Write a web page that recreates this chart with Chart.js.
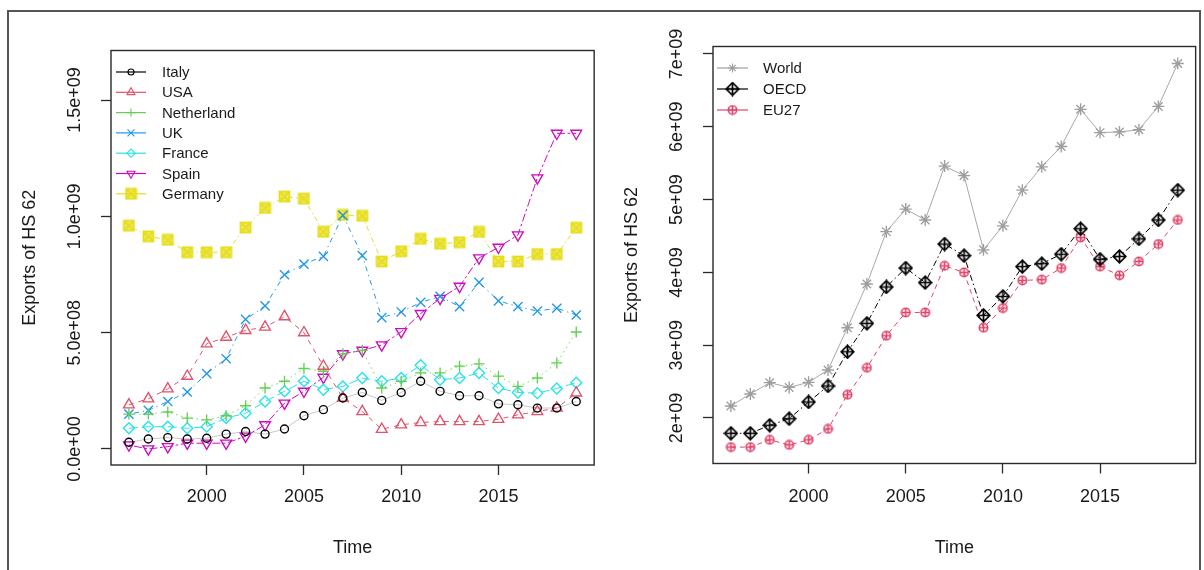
<!DOCTYPE html>
<html><head><meta charset="utf-8">
<script src="https://cdn.jsdelivr.net/npm/chart.js@4.4.0/dist/chart.umd.min.js"></script>
<style>
html,body{margin:0;padding:0;background:#fff;}
#wrap{position:relative;width:1204px;height:570px;overflow:hidden;background:#fff;}
#frame{position:absolute;left:7px;top:10px;width:1194px;height:620px;border:2px solid #555;box-sizing:border-box;}
.cv{position:absolute;top:0;}
</style></head><body>
<div id="wrap">
<div id="frame"></div>
<canvas id="c1" class="cv" width="602" height="570" style="left:0px"></canvas>
<canvas id="c2" class="cv" width="602" height="570" style="left:602px"></canvas>
</div>
<script>
// ---------- data (values in units of 1e9) ----------
const years = [1996,1997,1998,1999,2000,2001,2002,2003,2004,2005,2006,2007,2008,2009,2010,2011,2012,2013,2014,2015,2016,2017,2018,2019];

const italy      = [0.029,0.043,0.049,0.043,0.046,0.064,0.075,0.064,0.086,0.143,0.169,0.219,0.243,0.209,0.243,0.291,0.248,0.229,0.229,0.194,0.190,0.176,0.176,0.204];
const usa        = [0.190,0.216,0.259,0.313,0.452,0.481,0.510,0.524,0.569,0.500,0.356,0.219,0.161,0.085,0.104,0.114,0.118,0.118,0.118,0.128,0.147,0.161,0.176,0.241];
const netherland = [0.150,0.150,0.159,0.133,0.125,0.143,0.186,0.262,0.291,0.346,0.334,0.409,0.424,0.262,0.291,0.327,0.327,0.356,0.366,0.313,0.269,0.305,0.370,0.503];
const uk         = [0.150,0.166,0.204,0.245,0.324,0.388,0.557,0.615,0.749,0.795,0.828,1.004,0.831,0.565,0.589,0.630,0.656,0.612,0.716,0.637,0.612,0.593,0.605,0.576];
const france     = [0.089,0.096,0.096,0.089,0.096,0.133,0.154,0.204,0.248,0.291,0.255,0.269,0.305,0.291,0.305,0.360,0.298,0.305,0.327,0.262,0.243,0.240,0.260,0.285];
const spain      = [0.017,0.000,0.010,0.025,0.025,0.025,0.055,0.104,0.197,0.248,0.308,0.409,0.424,0.447,0.504,0.582,0.647,0.699,0.821,0.867,0.920,1.165,1.357,1.357];
const germany    = [0.960,0.914,0.899,0.846,0.846,0.846,0.952,1.036,1.085,1.076,0.934,1.006,1.002,0.806,0.850,0.903,0.882,0.889,0.933,0.806,0.806,0.838,0.838,0.951];

const world = [2.165,2.33,2.485,2.42,2.49,2.66,3.24,3.84,4.56,4.87,4.72,5.46,5.33,4.31,4.64,5.13,5.45,5.73,6.24,5.92,5.93,5.96,6.28,6.87];
const oecd  = [1.79,1.79,1.90,1.99,2.22,2.44,2.91,3.30,3.80,4.06,3.86,4.39,4.23,3.41,3.67,4.08,4.12,4.25,4.60,4.18,4.22,4.46,4.72,5.13];
const eu27  = [1.60,1.60,1.70,1.63,1.70,1.85,2.32,2.69,3.13,3.45,3.45,4.09,4.00,3.24,3.51,3.89,3.90,4.06,4.48,4.08,3.96,4.15,4.39,4.72];

const leftNames  = ["Italy","USA","Netherland","UK","France","Spain","Germany"];
const rightNames = ["World","OECD","EU27"];

const xTickValues = [2000,2005,2010,2015];
const xTickLabels = ["2000","2005","2010","2015"];
const yLeftTickValues = [0,0.5,1.0,1.5];
const yLeftTickLabels = ["0.0e+00","5.0e+08","1.0e+09","1.5e+09"];
const yRightTickValues = [2,3,4,5,6,7];
const yRightTickLabels = ["2e+09","3e+09","4e+09","5e+09","6e+09","7e+09"];

const xTitle = "Time";
const yTitle = "Exports of HS 62";

// ---------- styles ----------
const FONT = "'Liberation Sans', Arial, Helvetica, sans-serif";
Chart.defaults.font.family = FONT;
Chart.defaults.color = '#1a1a1a';

function mk(size, draw){ const c=document.createElement('canvas'); c.width=size; c.height=size; const g=c.getContext('2d'); draw(g,size); return c; }
const boxX = (col)=>mk(13,(g)=>{ g.fillStyle=col; g.globalAlpha=0.7; g.fillRect(1.5,1.5,10,10); g.globalAlpha=1; g.strokeStyle=col; g.lineWidth=1.8; g.strokeRect(1.5,1.5,10,10); g.beginPath(); g.moveTo(1.5,1.5); g.lineTo(11.5,11.5); g.moveTo(11.5,1.5); g.lineTo(1.5,11.5); g.stroke(); });
const diamondPlus = (col)=>mk(15,(g)=>{ g.strokeStyle=col; g.lineWidth=1.7; g.beginPath(); g.moveTo(7.5,1.2); g.lineTo(13.8,7.5); g.lineTo(7.5,13.8); g.lineTo(1.2,7.5); g.closePath(); g.moveTo(7.5,1.2); g.lineTo(7.5,13.8); g.moveTo(1.2,7.5); g.lineTo(13.8,7.5); g.stroke(); });
const circlePlus = (col)=>mk(11,(g)=>{ g.strokeStyle=col; g.lineWidth=1.6; g.beginPath(); g.arc(5.5,5.5,4.2,0,Math.PI*2); g.moveTo(5.5,1.2); g.lineTo(5.5,9.8); g.moveTo(1.2,5.5); g.lineTo(9.8,5.5); g.stroke(); });

const leftStyles = [
  {color:'#000000', line:'rgba(0,0,0,0.22)', pointStyle:'circle',   radius:4,   rot:0,   dash:[]},
  {color:'#DF536B', line:'#DF536B', pointStyle:'triangle', radius:6.2, rot:0,   dash:[5,5]},
  {color:'#61D04F', line:'#61D04F', pointStyle:'cross',    radius:5.5, rot:0,   dash:[1.3,4]},
  {color:'#2297E6', line:'#2297E6', pointStyle:'crossRot', radius:6.5, rot:0,   dash:[1.3,4,5,4]},
  {color:'#28E2E5', line:'#28E2E5', pointStyle:'rectRot',  radius:5.5, rot:0,   dash:[9,4]},
  {color:'#CD0BBC', line:'#CD0BBC', pointStyle:'triangle', radius:6.2, rot:180, dash:[2.6,2.6,8,2.6]},
  {color:'#E6DE1C', line:'#E6DE1C', pointStyle:boxX('#E6DE1C'), radius:6, rot:0, dash:[1.3,3,5,3]}
];
const rightStyles = [
  {color:'#9E9E9E', line:'#A8A8A8', pointStyle:'star', radius:6, rot:0, dash:[]},
  {color:'#000000', line:'#000000', pointStyle:diamondPlus('#000000'), radius:7, rot:0, dash:[6,3,1.5,3]},
  {color:'#E0446A', line:'#E0446A', pointStyle:circlePlus('#E0446A'), radius:5, rot:0, dash:[5,4]}
];

function mkDatasets(names, series, styles){
  return names.map((n,i)=>({
    label:n,
    data: years.map((yr,j)=>({x:yr, y:series[i][j]})),
    borderColor: styles[i].line,
    legendColor: styles[i].color,
    backgroundColor:'rgba(0,0,0,0)',
    borderWidth:1,
    borderDash: styles[i].dash,
    pointStyle: styles[i].pointStyle,
    pointRadius: styles[i].radius,
    pointRotation: styles[i].rot,
    pointBorderWidth: 1.35,
    pointBorderColor: styles[i].color,
    pointBackgroundColor: 'rgba(0,0,0,0)',
    tension:0, fill:false
  }));
}

const boxPlugin = {
  id:'rbox',
  afterDraw(chart, args, opts){
    const {ctx, chartArea:a} = chart;
    ctx.save();
    ctx.strokeStyle='#2a2a2a'; ctx.lineWidth=1.4; ctx.setLineDash([]);
    ctx.strokeRect(a.left, a.top, a.right-a.left, a.bottom-a.top);
    const lg = opts;
    chart.data.datasets.forEach((ds,i)=>{
      const y = a.top + lg.first + i*lg.step;
      ctx.save();
      ctx.strokeStyle = ds.legendColor; ctx.lineWidth=1.2; ctx.setLineDash([]);
      ctx.beginPath(); ctx.moveTo(a.left+lg.x0, y); ctx.lineTo(a.left+lg.x1, y); ctx.stroke();
      ctx.fillStyle='rgba(0,0,0,0)';
      ctx.lineWidth=1.1;
      Chart.helpers.drawPoint(ctx, {pointStyle: ds.pointStyle, rotation: ds.pointRotation, radius: ds.pointRadius*0.75, borderWidth:1.1}, a.left+(lg.x0+lg.x1)/2, y);
      ctx.restore();
      ctx.fillStyle='#1a1a1a';
      ctx.font = lg.fontSize+'px '+FONT;
      ctx.textAlign='left'; ctx.textBaseline='middle';
      ctx.fillText(ds.label, a.left+lg.tx, y+1);
    });
    ctx.restore();
  }
};

function measure(txt){ const c=document.createElement('canvas').getContext('2d'); c.font='18px '+FONT; return c.measureText(txt).width; }

function makeChart(id, datasets, cfg){
  const yPad = cfg.labelOffset - measure(cfg.yLabels[cfg.yLabels.length-1])/2;
  return new Chart(document.getElementById(id), {
    type:'line',
    data:{datasets},
    plugins:[boxPlugin],
    options:{
      responsive:false, animation:false, devicePixelRatio:1,
      layout:{padding:{left:0, right:cfg.padRight, top:cfg.padTop, bottom:0}},
      plugins:{legend:{display:false}, tooltip:{enabled:false}, title:{display:false},
        rbox: cfg.legend},
      scales:{
        x:{type:'linear', position:'bottom', min:1995.08, max:2019.92,
          afterBuildTicks:(s)=>{ s.ticks = xTickValues.map(v=>({value:v})); },
          grid:{drawOnChartArea:false, drawTicks:true, tickLength:10, tickColor:'#2a2a2a', tickWidth:1.3},
          border:{display:false},
          ticks:{autoSkip:false, maxRotation:0, minRotation:0, padding:cfg.xTickPad, color:'#1a1a1a', font:{size:18},
            callback:(v)=>xTickLabels[xTickValues.indexOf(v)]},
          title:{display:true, text:xTitle, color:'#1a1a1a', font:{size:18}, padding:{top:0,bottom:11.2}},
          afterFit:(s)=>{ s.height = cfg.xHeight; }
        },
        y:{type:'linear', position:'left', min:cfg.yMin, max:cfg.yMax,
          afterBuildTicks:(s)=>{ s.ticks = cfg.yValues.map(v=>({value:v})); },
          grid:{drawOnChartArea:false, drawTicks:true, tickLength:10, tickColor:'#2a2a2a', tickWidth:1.3},
          border:{display:false},
          ticks:{autoSkip:false, minRotation:90, maxRotation:90, crossAlign:'center', padding:yPad, color:'#1a1a1a', font:{size:18},
            callback:(v)=>cfg.yLabels[cfg.yValues.indexOf(v)]},
          title:{display:true, text:yTitle, color:'#1a1a1a', font:{size:18}, padding:{top:19.2,bottom:0}},
          afterFit:(s)=>{ s.width = 111; }
        }
      }
    }
  });
}

makeChart('c1', mkDatasets(leftNames,[italy,usa,netherland,uk,france,spain,germany],leftStyles), {
  padTop:50.5, padRight:7, xHeight:105, xTickPad:11.2,
  yMin:-0.0688, yMax:1.713, yValues:yLeftTickValues, yLabels:yLeftTickLabels, labelOffset:26,
  legend:{first:21.5, step:20.3, x0:5, x1:35, tx:51, fontSize:15}
});
makeChart('c2', mkDatasets(rightNames,[world,oecd,eu27],rightStyles), {
  padTop:46.5, padRight:7, xHeight:106.5, xTickPad:12.7,
  yMin:1.375, yMax:7.103, yValues:yRightTickValues, yLabels:yRightTickLabels, labelOffset:26,
  legend:{first:21.5, step:21, x0:4, x1:35, tx:50, fontSize:15}
});
</script>
</body></html>
